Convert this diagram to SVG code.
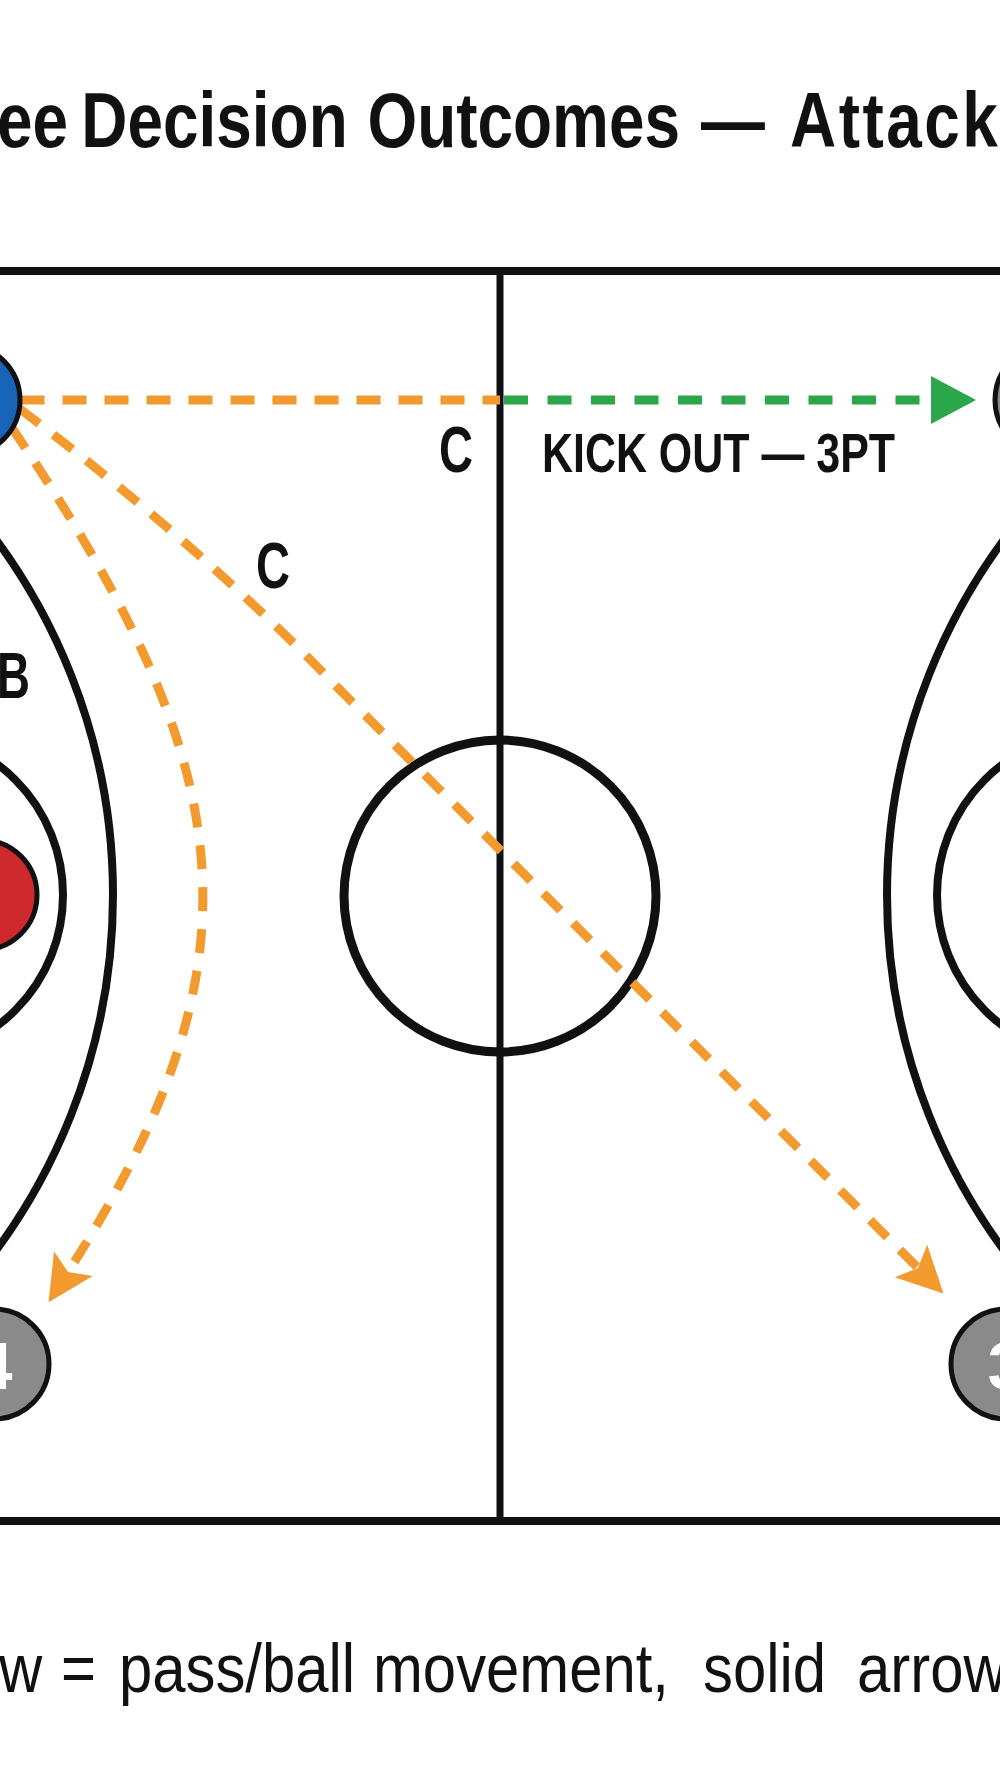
<svg xmlns="http://www.w3.org/2000/svg" width="1000" height="1792" viewBox="0 0 1000 1792">
  <style>
    .line { fill: none; stroke: #111; }
    .player { stroke: #111; stroke-width: 5; }
    .num { font-family: "Liberation Sans", Arial, sans-serif; font-weight: bold; font-size: 66px; fill: #fff; text-anchor: middle; }
    .lbl { font-family: "Liberation Sans", Arial, sans-serif; font-weight: bold; fill: #111; }
    .pass { fill: none; stroke: #F29A2E; stroke-width: 9; stroke-dasharray: 24 18; }
    .kick { fill: none; stroke: #2BA64A; stroke-width: 9; stroke-dasharray: 24 19.5; }
  </style>
  <defs>
    <marker id="ah-orange" markerUnits="userSpaceOnUse" markerWidth="50" markerHeight="50" refX="10" refY="25" orient="auto" overflow="visible">
      <path d="M0 2 L46 25 L0 48 L10 25 Z" fill="#F29A2E"/>
    </marker>
    <marker id="ah-green" markerUnits="userSpaceOnUse" markerWidth="50" markerHeight="50" refX="0" refY="24" orient="auto" overflow="visible">
      <path d="M0 0 L45 24 L0 48 Z" fill="#2BA64A"/>
    </marker>
  </defs>
  <rect x="0" y="0" width="1000" height="1792" fill="#fff"/>

  <text id="title" class="lbl" font-size="77" transform="scale(0.83 1)" y="147"><tspan x="-3.6">ee </tspan><tspan x="98">Decision </tspan><tspan x="442.8">Outcomes </tspan><tspan x="844.6">— </tspan><tspan x="951.8" letter-spacing="3">Attack</tspan></text>

  <g id="court">
    <line class="line" x1="0" y1="271" x2="1000" y2="271" stroke-width="8"/>
    <line class="line" x1="0" y1="1521" x2="1000" y2="1521" stroke-width="8"/>
    <line class="line" x1="500" y1="271" x2="500" y2="1521" stroke-width="7"/>
    <circle class="line" cx="500" cy="896" r="156" stroke-width="9"/>
    <circle class="line" cx="-485" cy="895" r="598" stroke-width="8"/>
    <circle class="line" cx="-100" cy="895" r="163" stroke-width="8"/>
    <circle class="line" cx="1485" cy="895" r="598" stroke-width="8"/>
    <circle class="line" cx="1100" cy="895" r="163" stroke-width="8"/>
  </g>

  <g id="connectors">
    <path class="pass" d="M20.5 400 H500"/>
    <path class="kick" d="M504 400 H931" marker-end="url(#ah-green)"/>
    <path class="pass" d="M20 409 Q200 545 340 690 L918 1268" marker-end="url(#ah-orange)"/>
    <path class="pass" d="M12 428 C240 765 270 957 68 1272" marker-end="url(#ah-orange)"/>
  </g>

  <g id="player-blue">
    <circle class="player" cx="-35" cy="400" r="55" fill="#1864B8"/>
  </g>
  <g id="player-red">
    <circle class="player" cx="-18" cy="895" r="55" fill="#CE2A2E"/>
  </g>
  <g id="player-2">
    <circle class="player" cx="1050" cy="400" r="55" fill="#8A8A8A"/>
  </g>
  <g id="player-4">
    <circle class="player" cx="-6" cy="1364" r="55" fill="#8A8A8A"/>
    <text class="num" x="-6" y="1389">4</text>
  </g>
  <g id="player-3">
    <circle class="player" cx="1006" cy="1364" r="55" fill="#8A8A8A"/>
    <text class="num" x="1006" y="1389">3</text>
  </g>

  <g id="labels">
    <text class="lbl" font-size="64" x="439" y="472" textLength="34" lengthAdjust="spacingAndGlyphs">C</text>
    <text class="lbl" font-size="56" x="542" y="472" textLength="353" lengthAdjust="spacingAndGlyphs">KICK OUT — 3PT</text>
    <text class="lbl" font-size="64" x="256" y="588" textLength="34" lengthAdjust="spacingAndGlyphs">C</text>
    <text class="lbl" font-size="64" x="-3" y="698" textLength="33" lengthAdjust="spacingAndGlyphs">B</text>
  </g>

  <text id="legend" font-family="'Liberation Sans', Arial, sans-serif" font-size="68" fill="#111" transform="scale(0.88 1)" y="1692"><tspan x="-1.1">w </tspan><tspan x="69.3">= </tspan><tspan x="135.2">pass/ball </tspan><tspan x="423.9">movement, </tspan><tspan x="798.9">solid </tspan><tspan x="973.9">arrow</tspan></text>
</svg>
